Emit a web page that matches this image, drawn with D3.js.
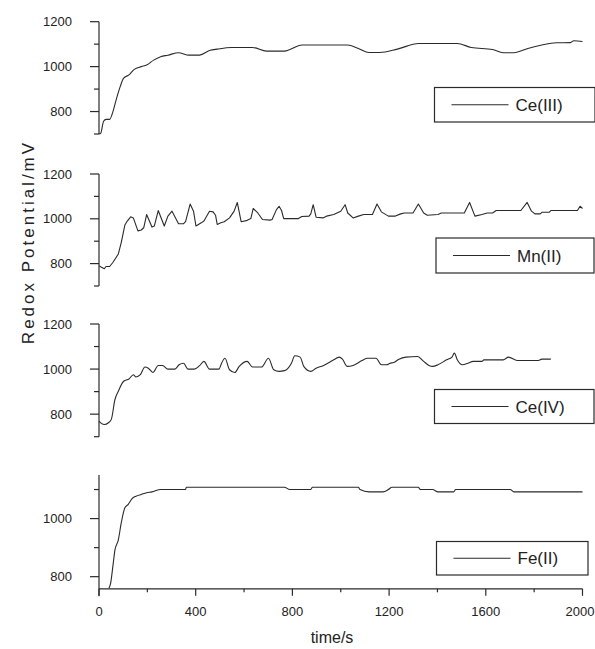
<!DOCTYPE html>
<html>
<head>
<meta charset="utf-8">
<script src="https://cdn.jsdelivr.net/npm/d3@7"></script>
<style>
  body { margin: 0; background: #fff; }
  svg { display: block; font-family: "Liberation Sans", Arial, sans-serif; }
</style>
</head>
<body>
<div id="chart"></div>
<script>
// time (s), potential (mV)
const ceIII = [
  [0,700],[7,703],[19,757],[29,765],[44,765],[58,801],[73,860],[88,912],[102,949],[124,963],
  [146,988],[175,1000],[197,1007],[226,1029],[255,1044],[285,1051],[329,1062],[372,1051],[416,1051],
  [460,1073],[489,1078],[547,1085],[635,1085],[693,1069],[767,1069],[840,1096],[1029,1096],
  [1073,1081],[1117,1063],[1161,1063],[1234,1078],[1322,1103],[1482,1103],[1540,1085],[1628,1076],
  [1672,1062],[1716,1062],[1774,1081],[1832,1096],[1891,1106],[1950,1107],[1964,1115],[2000,1112]
];
const mnII = [
  [0,791],[10,784],[22,777],[29,787],[44,787],[58,806],[80,843],[92,894],[107,972],[117,990],
  [131,1009],[142,1004],[161,946],[175,950],[185,960],[197,1019],[219,963],[229,968],[245,1037],
  [270,968],[285,1012],[302,1034],[329,978],[350,978],[358,987],[377,1066],[391,1034],[401,968],
  [423,982],[434,990],[457,1034],[472,1031],[482,1016],[489,975],[504,982],[518,987],[540,1004],
  [559,1034],[572,1073],[588,987],[613,993],[628,1001],[638,1046],[657,1026],[676,997],[708,994],
  [716,997],[734,1041],[745,1056],[755,1037],[764,1001],[825,1001],[839,1010],[869,1012],[876,1022],
  [886,1063],[898,1007],[927,1004],[942,1012],[971,1019],[1000,1034],[1018,1063],[1029,1026],
  [1051,1004],[1073,1012],[1095,1019],[1131,1019],[1150,1066],[1168,1031],[1197,1012],[1226,1012],
  [1248,1022],[1263,1026],[1299,1026],[1321,1066],[1343,1026],[1358,1016],[1402,1019],[1416,1026],
  [1511,1026],[1533,1073],[1555,1012],[1584,1019],[1606,1026],[1628,1026],[1643,1037],[1745,1037],
  [1771,1073],[1789,1034],[1803,1022],[1825,1022],[1832,1029],[1862,1029],[1869,1037],[1979,1037],
  [1990,1056],[2000,1046]
];
const ceIV = [
  [0,769],[10,759],[22,754],[39,762],[51,777],[66,865],[80,902],[102,946],[124,956],[142,975],
  [153,965],[171,975],[190,1009],[204,1004],[223,985],[245,1016],[263,1016],[285,1000],[314,1000],
  [331,1019],[350,1026],[368,1000],[394,1000],[416,1015],[434,1034],[457,1000],[496,1000],[507,1026],
  [521,1048],[540,997],[562,985],[580,1012],[613,1034],[635,1009],[672,1009],[701,1048],[723,997],
  [745,990],[767,993],[796,1026],[810,1059],[832,1053],[847,1012],[876,990],[898,1004],[927,1015],
  [971,1041],[993,1053],[1007,1044],[1026,1012],[1051,1016],[1088,1038],[1110,1048],[1146,1048],
  [1168,1019],[1190,1019],[1204,1026],[1219,1029],[1241,1044],[1270,1053],[1318,1056],[1343,1034],
  [1365,1016],[1380,1012],[1402,1019],[1438,1041],[1460,1053],[1470,1071],[1482,1041],[1504,1019],
  [1526,1026],[1548,1034],[1584,1034],[1592,1041],[1672,1041],[1694,1053],[1730,1038],[1818,1038],
  [1832,1044],[1869,1044]
];
const feII = [
  [41,760],[48,777],[58,840],[66,892],[80,927],[92,985],[107,1037],[121,1049],[136,1068],[153,1077],
  [175,1083],[197,1089],[219,1092],[255,1100],[358,1100],[361,1108],[767,1108],[789,1100],[876,1100],
  [883,1108],[1073,1108],[1080,1100],[1117,1092],[1175,1092],[1197,1100],[1212,1108],[1321,1108],
  [1329,1100],[1380,1100],[1402,1092],[1467,1092],[1475,1100],[1701,1100],[1716,1092],[2000,1092]
];

const seriesNames = ["Ce(III)", "Mn(II)", "Ce(IV)", "Fe(II)"];
const yMajor = [800, 1000, 1200];
const yMinor = [700, 900, 1100];
const xMajor = [0, 400, 800, 1200, 1600, 2000];
const xMinor = [200, 600, 1000, 1400, 1800];

const W = 595, H = 649;
const svg = d3.select('#chart').append('svg').attr('width', W).attr('height', H);

const x = d3.scaleLinear().domain([0, 2000]).range([99, 582.5]);

// Mn(II) has sharp spikes, the others are smooth
const panels = [
  {data: ceIII, domain: [700, 1200], range: [134, 21.7], box: [434.5, 87.5, 595, 122], curve: d3.curveMonotoneX},
  {data: mnII,  domain: [700, 1200], range: [286, 174],  box: [436, 238, 594, 273], curve: d3.curveLinear},
  {data: ceIV,  domain: [700, 1200], range: [436.7, 324], box: [434.5, 389.5, 594, 423.5], curve: d3.curveMonotoneX},
  {data: feII,  domain: [760, 1150], range: [588.3, 475], box: [436.5, 541.5, 588, 575], curve: d3.curveMonotoneX}
];

const ink = '#2a2a2a';

panels.forEach((p, i) => {
  const y = d3.scaleLinear().domain(p.domain).range(p.range);
  const g = svg.append('g');
  const ext = i === 3 ? 8 : 0;

  // axis line
  g.append('line')
    .attr('x1', x(0)).attr('x2', x(0))
    .attr('y1', y(p.domain[1])).attr('y2', y(p.domain[0]) + ext)
    .attr('stroke', ink).attr('stroke-width', 1.2);

  const inDom = v => v >= p.domain[0] && v <= p.domain[1];
  g.selectAll('.maj').data(yMajor.filter(inDom)).enter().append('line')
    .attr('x1', x(0) - 9).attr('x2', x(0))
    .attr('y1', d => y(d)).attr('y2', d => y(d))
    .attr('stroke', ink).attr('stroke-width', 1.2);
  g.selectAll('.min').data(yMinor.filter(inDom)).enter().append('line')
    .attr('x1', x(0) - 5).attr('x2', x(0))
    .attr('y1', d => y(d)).attr('y2', d => y(d))
    .attr('stroke', ink).attr('stroke-width', 1.2);
  g.selectAll('.lab').data(yMajor.filter(inDom)).enter().append('text')
    .attr('x', 72).attr('y', d => y(d) + 4.6)
    .attr('text-anchor', 'end').attr('font-size', 13).attr('fill', '#222')
    .text(d => d);

  const line = d3.line().x(d => x(d[0])).y(d => y(d[1])).curve(p.curve);
  g.append('path').datum(p.data)
    .attr('d', line).attr('fill', 'none')
    .attr('stroke', ink).attr('stroke-width', 1.1)
    .attr('stroke-linejoin', 'round');

  // legend
  const [bx0, by0, bx1, by1] = p.box;
  g.append('rect')
    .attr('x', bx0).attr('y', by0).attr('width', bx1 - bx0).attr('height', by1 - by0)
    .attr('fill', '#fff').attr('stroke', ink).attr('stroke-width', 1.2);
  const ly = (by0 + by1) / 2;
  g.append('line')
    .attr('x1', bx0 + 17).attr('x2', bx0 + 74).attr('y1', ly).attr('y2', ly)
    .attr('stroke', ink).attr('stroke-width', 1.2);
  g.append('text')
    .attr('x', bx0 + 81).attr('y', ly + 6)
    .attr('font-size', 17).attr('fill', '#222')
    .text(seriesNames[i]);
});

// x axis on the bottom panel
const xa = svg.append('g');
const axY = 588.8;
xa.append('line').attr('x1', x(0)).attr('x2', x(2000)).attr('y1', axY).attr('y2', axY)
  .attr('stroke', ink).attr('stroke-width', 1.2);
xa.selectAll('.xmaj').data(xMajor).enter().append('line')
  .attr('x1', d => x(d)).attr('x2', d => x(d)).attr('y1', axY).attr('y2', axY + 7)
  .attr('stroke', ink).attr('stroke-width', 1.2);
xa.selectAll('.xmin').data(xMinor).enter().append('line')
  .attr('x1', d => x(d)).attr('x2', d => x(d)).attr('y1', axY).attr('y2', axY + 3.5)
  .attr('stroke', ink).attr('stroke-width', 1.2);
xa.selectAll('.xlab').data(xMajor).enter().append('text')
  .attr('x', d => d === 2000 ? 594.5 : x(d)).attr('y', 615.5)
  .attr('text-anchor', d => d === 2000 ? 'end' : 'middle')
  .attr('font-size', 13).attr('fill', '#222')
  .text(d => d);

svg.append('text')
  .attr('x', 332).attr('y', 643)
  .attr('text-anchor', 'middle').attr('font-size', 16).attr('fill', '#222')
  .text('time/s');

svg.append('text')
  .attr('transform', 'translate(34,242) rotate(-90)')
  .attr('text-anchor', 'middle').attr('font-size', 17).attr('fill', '#222')
  .attr('letter-spacing', 3)
  .text('Redox Potential/mV');
</script>
</body>
</html>
